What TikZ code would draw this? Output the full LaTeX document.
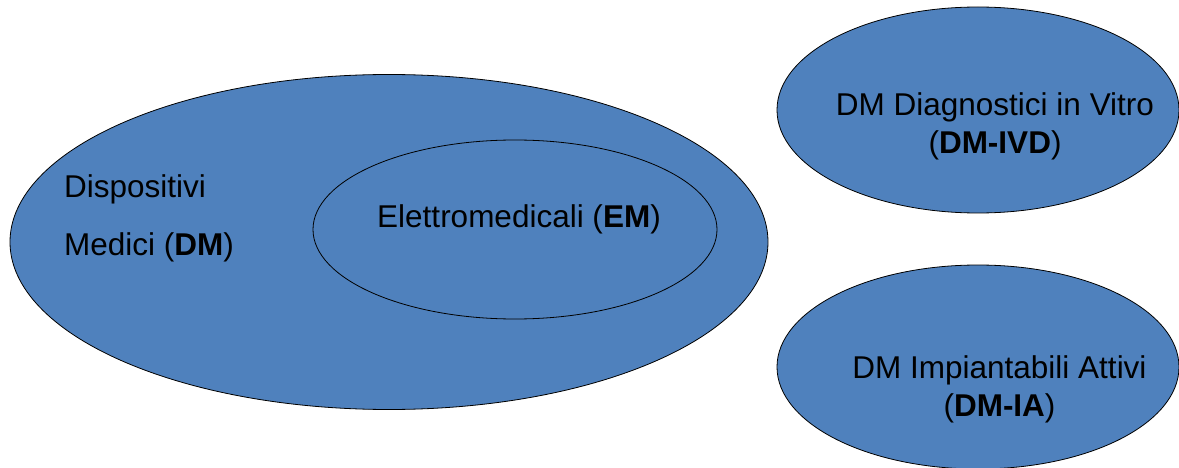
\documentclass[tikz,border=0pt]{standalone}
\usepackage{fontspec}
\setmainfont{Liberation Sans}
\usepackage{xcolor}
\usetikzlibrary{shapes.geometric}
\definecolor{dmblue}{HTML}{4F81BD}

\begin{document}
\begin{tikzpicture}[
    x=1pt, y=-1pt,
    region/.style={
        ellipse, draw=black, line width=0.8pt,
        fill=dmblue, inner sep=0pt
    },
    txt/.style={
        inner sep=0pt, align=center,
        font=\fontsize{31.5}{37.8}\selectfont
    }
]
\useasboundingbox (0,0) rectangle (1179,468);

% Outer set and nested set
\node[region, minimum width=758pt, minimum height=335pt] (dm) at (389,242) {};
\node[region, minimum width=404pt, minimum height=179pt] (em) at (515,229.5) {};

% Separate sets on the right
\node[region, minimum width=402pt, minimum height=206pt] (ivd) at (978,110) {};
\node[region, minimum width=402pt, minimum height=204pt] (ia) at (978,367) {};

% Texts
\node[txt, align=left, anchor=west] (dmtxt) at (64,218) {Dispositivi\\[20pt]Medici (\textbf{DM})};
\node[txt, anchor=base] (emtxt) at (519,227) {Elettromedicali (\textbf{EM})};
\node[txt] (ivdtxt) at (995,126) {DM Diagnostici in Vitro\\(\textbf{DM-IVD})};
\node[txt] (iatxt) at (999.5,389.5) {DM Impiantabili Attivi\\(\textbf{DM-IA})};

\end{tikzpicture}
\end{document}
